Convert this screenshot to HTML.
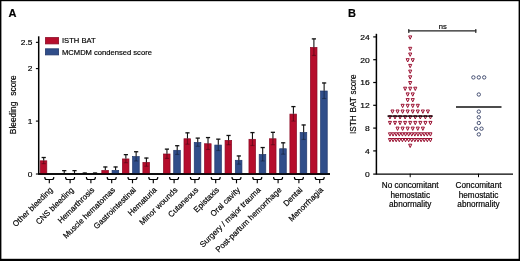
<!DOCTYPE html>
<html><head><meta charset="utf-8"><title>Figure</title>
<style>html,body{margin:0;padding:0;background:#fff;}svg{display:block;will-change:transform;}svg text{filter:grayscale(1);stroke:#000;stroke-width:0.18px;}</style></head>
<body>
<svg width="520" height="261" viewBox="0 0 520 261">
<rect x="0" y="0" width="520" height="261" fill="#fff"/>
<g>
<rect x="0" y="0" width="520" height="1.2" fill="#000"/>
<rect x="0" y="0" width="1.4" height="261" fill="#000"/>
<rect x="518.6" y="0" width="1.4" height="261" fill="#000"/>
<rect x="0" y="258.8" width="520" height="2.2" fill="#000"/>
<text x="8.5" y="16.8" font-family="Liberation Sans, sans-serif" font-size="11" font-weight="bold" fill="#000">A</text>
<text x="348" y="16.7" font-family="Liberation Sans, sans-serif" font-size="11" font-weight="bold" fill="#000">B</text>
<line x1="38.7" y1="36.3" x2="38.7" y2="174.2" stroke="#000" stroke-width="1.5"/>
<line x1="38.2" y1="174.0" x2="330" y2="173.95" stroke="#000" stroke-width="1.35"/>
<line x1="35.900000000000006" y1="174.0" x2="38.7" y2="174.0" stroke="#000" stroke-width="1.1"/>
<text transform="translate(32.400000000000006,176.80) scale(1.05,1)" font-family="Liberation Sans, sans-serif" font-size="8.0" text-anchor="end" fill="#000">0</text>
<line x1="35.900000000000006" y1="121.1" x2="38.7" y2="121.1" stroke="#000" stroke-width="1.1"/>
<text transform="translate(32.400000000000006,123.90) scale(1.05,1)" font-family="Liberation Sans, sans-serif" font-size="8.0" text-anchor="end" fill="#000">1</text>
<line x1="35.900000000000006" y1="68.6" x2="38.7" y2="68.6" stroke="#000" stroke-width="1.1"/>
<text transform="translate(32.400000000000006,71.40) scale(1.05,1)" font-family="Liberation Sans, sans-serif" font-size="8.0" text-anchor="end" fill="#000">2</text>
<line x1="35.900000000000006" y1="42.349999999999994" x2="38.7" y2="42.349999999999994" stroke="#000" stroke-width="1.1"/>
<text transform="translate(32.400000000000006,45.15) scale(1.05,1)" font-family="Liberation Sans, sans-serif" font-size="8.0" text-anchor="end" fill="#000">2.5</text>
<text transform="translate(16.1,104.7) rotate(-90) scale(0.9,1)" font-family="Liberation Sans, sans-serif" font-size="9.3" word-spacing="4" text-anchor="middle" fill="#000">Bleeding score</text>
<rect x="45.5" y="37.6" width="13.1" height="6.3" fill="#B60D2C" stroke="#8B0A25" stroke-width="0.8"/>
<rect x="45.5" y="48.8" width="13.1" height="6.1" fill="#304E8A" stroke="#22386B" stroke-width="0.8"/>
<text x="62" y="43.3" font-family="Liberation Sans, sans-serif" font-size="7.6" fill="#000">ISTH BAT</text>
<text x="62" y="54.5" font-family="Liberation Sans, sans-serif" font-size="7.6" fill="#000">MCMDM condensed score</text>
<rect x="40.20" y="160.82" width="6.6" height="13.12" fill="#B60D2C" stroke="#8B0A25" stroke-width="0.7"/>
<line x1="43.70" y1="157.32" x2="43.70" y2="160.47" stroke="#111" stroke-width="1.1"/>
<line x1="41.60" y1="157.52" x2="45.80" y2="157.52" stroke="#111" stroke-width="1.3"/>
<line x1="43.70" y1="160.47" x2="43.70" y2="163.62" stroke="#000" stroke-width="1.2" opacity="0.35"/>
<line x1="41.60" y1="163.62" x2="45.80" y2="163.62" stroke="#000" stroke-width="1.2" opacity="0.3"/>
<line x1="64.24" y1="170.45" x2="64.24" y2="173.60" stroke="#111" stroke-width="1.1"/>
<line x1="62.14" y1="170.65" x2="66.34" y2="170.65" stroke="#111" stroke-width="1.3"/>
<line x1="74.51" y1="170.45" x2="74.51" y2="173.60" stroke="#111" stroke-width="1.1"/>
<line x1="72.41" y1="170.65" x2="76.61" y2="170.65" stroke="#111" stroke-width="1.3"/>
<line x1="84.78" y1="172.81" x2="84.78" y2="173.60" stroke="#111" stroke-width="1.1"/>
<line x1="82.68" y1="173.01" x2="86.88" y2="173.01" stroke="#111" stroke-width="1.3"/>
<line x1="95.05" y1="172.81" x2="95.05" y2="173.60" stroke="#111" stroke-width="1.1"/>
<line x1="92.95" y1="173.01" x2="97.15" y2="173.01" stroke="#111" stroke-width="1.3"/>
<rect x="101.82" y="170.43" width="6.6" height="3.52" fill="#B60D2C" stroke="#8B0A25" stroke-width="0.7"/>
<line x1="105.32" y1="166.78" x2="105.32" y2="170.08" stroke="#111" stroke-width="1.1"/>
<line x1="103.22" y1="166.97" x2="107.42" y2="166.97" stroke="#111" stroke-width="1.3"/>
<rect x="112.09" y="170.43" width="6.6" height="3.52" fill="#304E8A" stroke="#22386B" stroke-width="0.7"/>
<line x1="115.59" y1="166.78" x2="115.59" y2="170.08" stroke="#111" stroke-width="1.1"/>
<line x1="113.49" y1="166.97" x2="117.69" y2="166.97" stroke="#111" stroke-width="1.3"/>
<rect x="122.36" y="158.94" width="6.6" height="15.01" fill="#B60D2C" stroke="#8B0A25" stroke-width="0.7"/>
<line x1="125.86" y1="154.44" x2="125.86" y2="158.59" stroke="#111" stroke-width="1.1"/>
<line x1="123.76" y1="154.64" x2="127.96" y2="154.64" stroke="#111" stroke-width="1.3"/>
<line x1="125.86" y1="158.59" x2="125.86" y2="162.73" stroke="#000" stroke-width="1.2" opacity="0.35"/>
<line x1="123.76" y1="162.73" x2="127.96" y2="162.73" stroke="#000" stroke-width="1.2" opacity="0.3"/>
<rect x="132.63" y="156.62" width="6.6" height="17.32" fill="#304E8A" stroke="#22386B" stroke-width="0.7"/>
<line x1="136.13" y1="151.55" x2="136.13" y2="156.28" stroke="#111" stroke-width="1.1"/>
<line x1="134.03" y1="151.75" x2="138.23" y2="151.75" stroke="#111" stroke-width="1.3"/>
<line x1="136.13" y1="156.28" x2="136.13" y2="161.00" stroke="#000" stroke-width="1.2" opacity="0.35"/>
<line x1="134.03" y1="161.00" x2="138.23" y2="161.00" stroke="#000" stroke-width="1.2" opacity="0.3"/>
<rect x="142.90" y="162.40" width="6.6" height="11.55" fill="#B60D2C" stroke="#8B0A25" stroke-width="0.7"/>
<line x1="146.40" y1="157.85" x2="146.40" y2="162.05" stroke="#111" stroke-width="1.1"/>
<line x1="144.30" y1="158.05" x2="148.50" y2="158.05" stroke="#111" stroke-width="1.3"/>
<line x1="146.40" y1="162.05" x2="146.40" y2="166.25" stroke="#000" stroke-width="1.2" opacity="0.35"/>
<line x1="144.30" y1="166.25" x2="148.50" y2="166.25" stroke="#000" stroke-width="1.2" opacity="0.3"/>
<rect x="163.44" y="154.00" width="6.6" height="19.95" fill="#B60D2C" stroke="#8B0A25" stroke-width="0.7"/>
<line x1="166.94" y1="148.93" x2="166.94" y2="153.65" stroke="#111" stroke-width="1.1"/>
<line x1="164.84" y1="149.12" x2="169.04" y2="149.12" stroke="#111" stroke-width="1.3"/>
<line x1="166.94" y1="153.65" x2="166.94" y2="158.38" stroke="#000" stroke-width="1.2" opacity="0.35"/>
<line x1="164.84" y1="158.38" x2="169.04" y2="158.38" stroke="#000" stroke-width="1.2" opacity="0.3"/>
<rect x="173.71" y="150.32" width="6.6" height="23.62" fill="#304E8A" stroke="#22386B" stroke-width="0.7"/>
<line x1="177.21" y1="145.51" x2="177.21" y2="149.97" stroke="#111" stroke-width="1.1"/>
<line x1="175.11" y1="145.71" x2="179.31" y2="145.71" stroke="#111" stroke-width="1.3"/>
<line x1="177.21" y1="149.97" x2="177.21" y2="154.44" stroke="#000" stroke-width="1.2" opacity="0.35"/>
<line x1="175.11" y1="154.44" x2="179.31" y2="154.44" stroke="#000" stroke-width="1.2" opacity="0.3"/>
<rect x="183.98" y="138.77" width="6.6" height="35.18" fill="#B60D2C" stroke="#8B0A25" stroke-width="0.7"/>
<line x1="187.48" y1="132.65" x2="187.48" y2="138.42" stroke="#111" stroke-width="1.1"/>
<line x1="185.38" y1="132.85" x2="189.58" y2="132.85" stroke="#111" stroke-width="1.3"/>
<line x1="187.48" y1="138.42" x2="187.48" y2="144.20" stroke="#000" stroke-width="1.2" opacity="0.35"/>
<line x1="185.38" y1="144.20" x2="189.58" y2="144.20" stroke="#000" stroke-width="1.2" opacity="0.3"/>
<rect x="194.25" y="142.45" width="6.6" height="31.50" fill="#304E8A" stroke="#22386B" stroke-width="0.7"/>
<line x1="197.75" y1="137.90" x2="197.75" y2="142.10" stroke="#111" stroke-width="1.1"/>
<line x1="195.65" y1="138.10" x2="199.85" y2="138.10" stroke="#111" stroke-width="1.3"/>
<line x1="197.75" y1="142.10" x2="197.75" y2="146.30" stroke="#000" stroke-width="1.2" opacity="0.35"/>
<line x1="195.65" y1="146.30" x2="199.85" y2="146.30" stroke="#000" stroke-width="1.2" opacity="0.3"/>
<rect x="204.52" y="143.76" width="6.6" height="30.19" fill="#B60D2C" stroke="#8B0A25" stroke-width="0.7"/>
<line x1="208.02" y1="137.38" x2="208.02" y2="143.41" stroke="#111" stroke-width="1.1"/>
<line x1="205.92" y1="137.57" x2="210.12" y2="137.57" stroke="#111" stroke-width="1.3"/>
<line x1="208.02" y1="143.41" x2="208.02" y2="149.45" stroke="#000" stroke-width="1.2" opacity="0.35"/>
<line x1="205.92" y1="149.45" x2="210.12" y2="149.45" stroke="#000" stroke-width="1.2" opacity="0.3"/>
<rect x="214.79" y="145.07" width="6.6" height="28.88" fill="#304E8A" stroke="#22386B" stroke-width="0.7"/>
<line x1="218.29" y1="138.95" x2="218.29" y2="144.72" stroke="#111" stroke-width="1.1"/>
<line x1="216.19" y1="139.15" x2="220.39" y2="139.15" stroke="#111" stroke-width="1.3"/>
<line x1="218.29" y1="144.72" x2="218.29" y2="150.50" stroke="#000" stroke-width="1.2" opacity="0.35"/>
<line x1="216.19" y1="150.50" x2="220.39" y2="150.50" stroke="#000" stroke-width="1.2" opacity="0.3"/>
<rect x="225.06" y="140.35" width="6.6" height="33.60" fill="#B60D2C" stroke="#8B0A25" stroke-width="0.7"/>
<line x1="228.56" y1="135.28" x2="228.56" y2="140.00" stroke="#111" stroke-width="1.1"/>
<line x1="226.46" y1="135.47" x2="230.66" y2="135.47" stroke="#111" stroke-width="1.3"/>
<line x1="228.56" y1="140.00" x2="228.56" y2="144.72" stroke="#000" stroke-width="1.2" opacity="0.35"/>
<line x1="226.46" y1="144.72" x2="230.66" y2="144.72" stroke="#000" stroke-width="1.2" opacity="0.3"/>
<rect x="235.33" y="160.30" width="6.6" height="13.65" fill="#304E8A" stroke="#22386B" stroke-width="0.7"/>
<line x1="238.83" y1="155.75" x2="238.83" y2="159.95" stroke="#111" stroke-width="1.1"/>
<line x1="236.73" y1="155.95" x2="240.93" y2="155.95" stroke="#111" stroke-width="1.3"/>
<line x1="238.83" y1="159.95" x2="238.83" y2="164.15" stroke="#000" stroke-width="1.2" opacity="0.35"/>
<line x1="236.73" y1="164.15" x2="240.93" y2="164.15" stroke="#000" stroke-width="1.2" opacity="0.3"/>
<rect x="248.95" y="139.30" width="6.6" height="34.65" fill="#B60D2C" stroke="#8B0A25" stroke-width="0.7"/>
<line x1="252.45" y1="132.39" x2="252.45" y2="138.95" stroke="#111" stroke-width="1.1"/>
<line x1="250.35" y1="132.59" x2="254.55" y2="132.59" stroke="#111" stroke-width="1.3"/>
<line x1="252.45" y1="138.95" x2="252.45" y2="145.51" stroke="#000" stroke-width="1.2" opacity="0.35"/>
<line x1="250.35" y1="145.51" x2="254.55" y2="145.51" stroke="#000" stroke-width="1.2" opacity="0.3"/>
<rect x="259.19" y="154.52" width="6.6" height="19.43" fill="#304E8A" stroke="#22386B" stroke-width="0.7"/>
<line x1="262.69" y1="147.35" x2="262.69" y2="154.17" stroke="#111" stroke-width="1.1"/>
<line x1="260.59" y1="147.55" x2="264.79" y2="147.55" stroke="#111" stroke-width="1.3"/>
<line x1="262.69" y1="154.17" x2="262.69" y2="161.00" stroke="#000" stroke-width="1.2" opacity="0.35"/>
<line x1="260.59" y1="161.00" x2="264.79" y2="161.00" stroke="#000" stroke-width="1.2" opacity="0.3"/>
<rect x="269.43" y="138.77" width="6.6" height="35.18" fill="#B60D2C" stroke="#8B0A25" stroke-width="0.7"/>
<line x1="272.93" y1="132.12" x2="272.93" y2="138.42" stroke="#111" stroke-width="1.1"/>
<line x1="270.83" y1="132.32" x2="275.03" y2="132.32" stroke="#111" stroke-width="1.3"/>
<line x1="272.93" y1="138.42" x2="272.93" y2="144.72" stroke="#000" stroke-width="1.2" opacity="0.35"/>
<line x1="270.83" y1="144.72" x2="275.03" y2="144.72" stroke="#000" stroke-width="1.2" opacity="0.3"/>
<rect x="279.67" y="148.75" width="6.6" height="25.20" fill="#304E8A" stroke="#22386B" stroke-width="0.7"/>
<line x1="283.17" y1="142.62" x2="283.17" y2="148.40" stroke="#111" stroke-width="1.1"/>
<line x1="281.07" y1="142.82" x2="285.27" y2="142.82" stroke="#111" stroke-width="1.3"/>
<line x1="283.17" y1="148.40" x2="283.17" y2="154.17" stroke="#000" stroke-width="1.2" opacity="0.35"/>
<line x1="281.07" y1="154.17" x2="285.27" y2="154.17" stroke="#000" stroke-width="1.2" opacity="0.3"/>
<rect x="289.91" y="114.10" width="6.6" height="59.85" fill="#B60D2C" stroke="#8B0A25" stroke-width="0.7"/>
<line x1="293.41" y1="106.40" x2="293.41" y2="113.75" stroke="#111" stroke-width="1.1"/>
<line x1="291.31" y1="106.60" x2="295.51" y2="106.60" stroke="#111" stroke-width="1.3"/>
<line x1="293.41" y1="113.75" x2="293.41" y2="121.10" stroke="#000" stroke-width="1.2" opacity="0.35"/>
<line x1="291.31" y1="121.10" x2="295.51" y2="121.10" stroke="#000" stroke-width="1.2" opacity="0.3"/>
<rect x="300.15" y="132.47" width="6.6" height="41.47" fill="#304E8A" stroke="#22386B" stroke-width="0.7"/>
<line x1="303.65" y1="124.77" x2="303.65" y2="132.12" stroke="#111" stroke-width="1.1"/>
<line x1="301.55" y1="124.97" x2="305.75" y2="124.97" stroke="#111" stroke-width="1.3"/>
<line x1="303.65" y1="132.12" x2="303.65" y2="139.47" stroke="#000" stroke-width="1.2" opacity="0.35"/>
<line x1="301.55" y1="139.47" x2="305.75" y2="139.47" stroke="#000" stroke-width="1.2" opacity="0.3"/>
<rect x="310.39" y="47.42" width="6.6" height="126.53" fill="#B60D2C" stroke="#8B0A25" stroke-width="0.7"/>
<line x1="313.89" y1="38.68" x2="313.89" y2="47.07" stroke="#111" stroke-width="1.1"/>
<line x1="311.79" y1="38.88" x2="315.99" y2="38.88" stroke="#111" stroke-width="1.3"/>
<line x1="313.89" y1="47.07" x2="313.89" y2="55.47" stroke="#000" stroke-width="1.2" opacity="0.35"/>
<line x1="311.79" y1="55.47" x2="315.99" y2="55.47" stroke="#000" stroke-width="1.2" opacity="0.3"/>
<rect x="320.63" y="91.00" width="6.6" height="82.95" fill="#304E8A" stroke="#22386B" stroke-width="0.7"/>
<line x1="324.13" y1="82.77" x2="324.13" y2="90.65" stroke="#111" stroke-width="1.1"/>
<line x1="322.03" y1="82.97" x2="326.23" y2="82.97" stroke="#111" stroke-width="1.3"/>
<line x1="324.13" y1="90.65" x2="324.13" y2="98.52" stroke="#000" stroke-width="1.2" opacity="0.35"/>
<line x1="322.03" y1="98.52" x2="326.23" y2="98.52" stroke="#000" stroke-width="1.2" opacity="0.3"/>
<line x1="38.2" y1="174.0" x2="330" y2="173.95" stroke="#000" stroke-width="1.35"/>
<path d="M44.80 176.9 Q44.80 179.5 46.60 179.5 L52.00 179.5 Q53.80 179.5 53.80 176.9 M49.30 179.5 L49.30 183.3" fill="none" stroke="#000" stroke-width="1.15"/>
<text transform="translate(53.30,190.5) rotate(-44.5)" font-family="Liberation Sans, sans-serif" font-size="8.0" text-anchor="end" fill="#000">Other bleeding</text>
<path d="M65.60 176.9 Q65.60 179.5 67.40 179.5 L72.80 179.5 Q74.60 179.5 74.60 176.9 M70.10 179.5 L70.10 183.3" fill="none" stroke="#000" stroke-width="1.15"/>
<text transform="translate(74.10,190.5) rotate(-44.5)" font-family="Liberation Sans, sans-serif" font-size="8.0" text-anchor="end" fill="#000">CNS bleeding</text>
<path d="M86.40 176.9 Q86.40 179.5 88.20 179.5 L93.60 179.5 Q95.40 179.5 95.40 176.9 M90.90 179.5 L90.90 183.3" fill="none" stroke="#000" stroke-width="1.15"/>
<text transform="translate(94.90,190.5) rotate(-44.5)" font-family="Liberation Sans, sans-serif" font-size="8.0" text-anchor="end" fill="#000">Hemarthrosis</text>
<path d="M107.20 176.9 Q107.20 179.5 109.00 179.5 L114.40 179.5 Q116.20 179.5 116.20 176.9 M111.70 179.5 L111.70 183.3" fill="none" stroke="#000" stroke-width="1.15"/>
<text transform="translate(115.70,190.5) rotate(-44.5)" font-family="Liberation Sans, sans-serif" font-size="8.0" text-anchor="end" fill="#000">Muscle hematomas</text>
<path d="M128.00 176.9 Q128.00 179.5 129.80 179.5 L135.20 179.5 Q137.00 179.5 137.00 176.9 M132.50 179.5 L132.50 183.3" fill="none" stroke="#000" stroke-width="1.15"/>
<text transform="translate(136.50,190.5) rotate(-44.5)" font-family="Liberation Sans, sans-serif" font-size="8.0" text-anchor="end" fill="#000">Gastrointestinal</text>
<path d="M148.80 176.9 Q148.80 179.5 150.60 179.5 L156.00 179.5 Q157.80 179.5 157.80 176.9 M153.30 179.5 L153.30 183.3" fill="none" stroke="#000" stroke-width="1.15"/>
<text transform="translate(157.30,190.5) rotate(-44.5)" font-family="Liberation Sans, sans-serif" font-size="8.0" text-anchor="end" fill="#000">Hematuria</text>
<path d="M169.60 176.9 Q169.60 179.5 171.40 179.5 L176.80 179.5 Q178.60 179.5 178.60 176.9 M174.10 179.5 L174.10 183.3" fill="none" stroke="#000" stroke-width="1.15"/>
<text transform="translate(178.10,190.5) rotate(-44.5)" font-family="Liberation Sans, sans-serif" font-size="8.0" text-anchor="end" fill="#000">Minor wounds</text>
<path d="M190.40 176.9 Q190.40 179.5 192.20 179.5 L197.60 179.5 Q199.40 179.5 199.40 176.9 M194.90 179.5 L194.90 183.3" fill="none" stroke="#000" stroke-width="1.15"/>
<text transform="translate(198.90,190.5) rotate(-44.5)" font-family="Liberation Sans, sans-serif" font-size="8.0" text-anchor="end" fill="#000">Cutaneous</text>
<path d="M211.20 176.9 Q211.20 179.5 213.00 179.5 L218.40 179.5 Q220.20 179.5 220.20 176.9 M215.70 179.5 L215.70 183.3" fill="none" stroke="#000" stroke-width="1.15"/>
<text transform="translate(219.70,190.5) rotate(-44.5)" font-family="Liberation Sans, sans-serif" font-size="8.0" text-anchor="end" fill="#000">Epistaxis</text>
<path d="M232.00 176.9 Q232.00 179.5 233.80 179.5 L239.20 179.5 Q241.00 179.5 241.00 176.9 M236.50 179.5 L236.50 183.3" fill="none" stroke="#000" stroke-width="1.15"/>
<text transform="translate(240.50,190.5) rotate(-44.5)" font-family="Liberation Sans, sans-serif" font-size="8.0" text-anchor="end" fill="#000">Oral cavity</text>
<path d="M252.80 176.9 Q252.80 179.5 254.60 179.5 L260.00 179.5 Q261.80 179.5 261.80 176.9 M257.30 179.5 L257.30 183.3" fill="none" stroke="#000" stroke-width="1.15"/>
<text transform="translate(261.30,190.5) rotate(-44.5)" font-family="Liberation Sans, sans-serif" font-size="8.0" text-anchor="end" fill="#000">Surgery / major trauma</text>
<path d="M273.60 176.9 Q273.60 179.5 275.40 179.5 L280.80 179.5 Q282.60 179.5 282.60 176.9 M278.10 179.5 L278.10 183.3" fill="none" stroke="#000" stroke-width="1.15"/>
<text transform="translate(282.10,190.5) rotate(-44.5)" font-family="Liberation Sans, sans-serif" font-size="8.0" text-anchor="end" fill="#000">Post-partum hemorrhage</text>
<path d="M294.40 176.9 Q294.40 179.5 296.20 179.5 L301.60 179.5 Q303.40 179.5 303.40 176.9 M298.90 179.5 L298.90 183.3" fill="none" stroke="#000" stroke-width="1.15"/>
<text transform="translate(302.90,190.5) rotate(-44.5)" font-family="Liberation Sans, sans-serif" font-size="8.0" text-anchor="end" fill="#000">Dental</text>
<path d="M315.20 176.9 Q315.20 179.5 317.00 179.5 L322.40 179.5 Q324.20 179.5 324.20 176.9 M319.70 179.5 L319.70 183.3" fill="none" stroke="#000" stroke-width="1.15"/>
<text transform="translate(323.70,190.5) rotate(-44.5)" font-family="Liberation Sans, sans-serif" font-size="8.0" text-anchor="end" fill="#000">Menorrhagia</text>
<line x1="376.4" y1="33.8" x2="376.4" y2="174.29999999999998" stroke="#000" stroke-width="1.5"/>
<line x1="375.9" y1="174.1" x2="513" y2="174.04999999999998" stroke="#000" stroke-width="1.35"/>
<line x1="373.2" y1="174.10" x2="376.4" y2="174.10" stroke="#000" stroke-width="1.2"/>
<text transform="translate(369.79999999999995,177.00) scale(1.05,1)" font-family="Liberation Sans, sans-serif" font-size="8.1" text-anchor="end" fill="#000">0</text>
<line x1="373.2" y1="150.90" x2="376.4" y2="150.90" stroke="#000" stroke-width="1.2"/>
<text transform="translate(369.79999999999995,153.80) scale(1.05,1)" font-family="Liberation Sans, sans-serif" font-size="8.1" text-anchor="end" fill="#000">4</text>
<line x1="373.2" y1="128.10" x2="376.4" y2="128.10" stroke="#000" stroke-width="1.2"/>
<text transform="translate(369.79999999999995,131.00) scale(1.05,1)" font-family="Liberation Sans, sans-serif" font-size="8.1" text-anchor="end" fill="#000">8</text>
<line x1="373.2" y1="105.30" x2="376.4" y2="105.30" stroke="#000" stroke-width="1.2"/>
<text transform="translate(369.79999999999995,108.20) scale(1.05,1)" font-family="Liberation Sans, sans-serif" font-size="8.1" text-anchor="end" fill="#000">12</text>
<line x1="373.2" y1="82.50" x2="376.4" y2="82.50" stroke="#000" stroke-width="1.2"/>
<text transform="translate(369.79999999999995,85.40) scale(1.05,1)" font-family="Liberation Sans, sans-serif" font-size="8.1" text-anchor="end" fill="#000">16</text>
<line x1="373.2" y1="59.70" x2="376.4" y2="59.70" stroke="#000" stroke-width="1.2"/>
<text transform="translate(369.79999999999995,62.60) scale(1.05,1)" font-family="Liberation Sans, sans-serif" font-size="8.1" text-anchor="end" fill="#000">20</text>
<line x1="373.2" y1="36.90" x2="376.4" y2="36.90" stroke="#000" stroke-width="1.2"/>
<text transform="translate(369.79999999999995,39.80) scale(1.05,1)" font-family="Liberation Sans, sans-serif" font-size="8.1" text-anchor="end" fill="#000">24</text>
<text transform="translate(355.7,104.2) rotate(-90) scale(0.885,1)" font-family="Liberation Sans, sans-serif" font-size="9.3" word-spacing="0.6" text-anchor="middle" fill="#000">ISTH BAT score</text>
<line x1="410.2" y1="173.7" x2="410.2" y2="177.2" stroke="#000" stroke-width="1"/>
<line x1="478.5" y1="173.7" x2="478.5" y2="177.2" stroke="#000" stroke-width="1"/>
<text x="410.2" y="188.0" font-family="Liberation Sans, sans-serif" font-size="8.2" text-anchor="middle" fill="#000">No concomitant</text>
<text x="410.2" y="197.7" font-family="Liberation Sans, sans-serif" font-size="8.2" text-anchor="middle" fill="#000">hemostatic</text>
<text x="410.2" y="207.4" font-family="Liberation Sans, sans-serif" font-size="8.2" text-anchor="middle" fill="#000">abnormality</text>
<text x="478.5" y="188.0" font-family="Liberation Sans, sans-serif" font-size="8.2" text-anchor="middle" fill="#000">Concomitant</text>
<text x="478.5" y="197.7" font-family="Liberation Sans, sans-serif" font-size="8.2" text-anchor="middle" fill="#000">hemostatic</text>
<text x="478.5" y="207.4" font-family="Liberation Sans, sans-serif" font-size="8.2" text-anchor="middle" fill="#000">abnormality</text>
<line x1="408.3" y1="30.9" x2="476.3" y2="30.9" stroke="#222" stroke-width="1.3"/>
<line x1="408.8" y1="28.9" x2="408.8" y2="32.9" stroke="#222" stroke-width="1.1"/>
<line x1="475.8" y1="28.9" x2="475.8" y2="32.9" stroke="#222" stroke-width="1.1"/>
<text x="442.7" y="29.2" font-family="Liberation Sans, sans-serif" font-size="7.6" text-anchor="middle" fill="#000">ns</text>
<path d="M408.65 35.90 L411.75 35.90 L410.20 39.20 Z" fill="#fff" stroke="#9A0F30" stroke-width="1.0" stroke-linejoin="miter"/>
<path d="M408.65 47.30 L411.75 47.30 L410.20 50.60 Z" fill="#fff" stroke="#9A0F30" stroke-width="1.0" stroke-linejoin="miter"/>
<path d="M408.65 53.00 L411.75 53.00 L410.20 56.30 Z" fill="#fff" stroke="#9A0F30" stroke-width="1.0" stroke-linejoin="miter"/>
<path d="M406.12 58.70 L409.22 58.70 L407.67 62.00 Z" fill="#fff" stroke="#9A0F30" stroke-width="1.0" stroke-linejoin="miter"/>
<path d="M411.18 58.70 L414.28 58.70 L412.73 62.00 Z" fill="#fff" stroke="#9A0F30" stroke-width="1.0" stroke-linejoin="miter"/>
<path d="M408.65 64.40 L411.75 64.40 L410.20 67.70 Z" fill="#fff" stroke="#9A0F30" stroke-width="1.0" stroke-linejoin="miter"/>
<path d="M408.65 70.10 L411.75 70.10 L410.20 73.40 Z" fill="#fff" stroke="#9A0F30" stroke-width="1.0" stroke-linejoin="miter"/>
<path d="M408.65 75.80 L411.75 75.80 L410.20 79.10 Z" fill="#fff" stroke="#9A0F30" stroke-width="1.0" stroke-linejoin="miter"/>
<path d="M408.65 81.50 L411.75 81.50 L410.20 84.80 Z" fill="#fff" stroke="#9A0F30" stroke-width="1.0" stroke-linejoin="miter"/>
<path d="M403.59 87.20 L406.69 87.20 L405.14 90.50 Z" fill="#fff" stroke="#9A0F30" stroke-width="1.0" stroke-linejoin="miter"/>
<path d="M408.65 87.20 L411.75 87.20 L410.20 90.50 Z" fill="#fff" stroke="#9A0F30" stroke-width="1.0" stroke-linejoin="miter"/>
<path d="M413.71 87.20 L416.81 87.20 L415.26 90.50 Z" fill="#fff" stroke="#9A0F30" stroke-width="1.0" stroke-linejoin="miter"/>
<path d="M406.12 92.90 L409.22 92.90 L407.67 96.20 Z" fill="#fff" stroke="#9A0F30" stroke-width="1.0" stroke-linejoin="miter"/>
<path d="M411.18 92.90 L414.28 92.90 L412.73 96.20 Z" fill="#fff" stroke="#9A0F30" stroke-width="1.0" stroke-linejoin="miter"/>
<path d="M406.12 98.60 L409.22 98.60 L407.67 101.90 Z" fill="#fff" stroke="#9A0F30" stroke-width="1.0" stroke-linejoin="miter"/>
<path d="M411.18 98.60 L414.28 98.60 L412.73 101.90 Z" fill="#fff" stroke="#9A0F30" stroke-width="1.0" stroke-linejoin="miter"/>
<path d="M401.06 104.30 L404.16 104.30 L402.61 107.60 Z" fill="#fff" stroke="#9A0F30" stroke-width="1.0" stroke-linejoin="miter"/>
<path d="M406.12 104.30 L409.22 104.30 L407.67 107.60 Z" fill="#fff" stroke="#9A0F30" stroke-width="1.0" stroke-linejoin="miter"/>
<path d="M411.18 104.30 L414.28 104.30 L412.73 107.60 Z" fill="#fff" stroke="#9A0F30" stroke-width="1.0" stroke-linejoin="miter"/>
<path d="M416.24 104.30 L419.34 104.30 L417.79 107.60 Z" fill="#fff" stroke="#9A0F30" stroke-width="1.0" stroke-linejoin="miter"/>
<path d="M390.94 110.00 L394.04 110.00 L392.49 113.30 Z" fill="#fff" stroke="#9A0F30" stroke-width="1.0" stroke-linejoin="miter"/>
<path d="M396.00 110.00 L399.10 110.00 L397.55 113.30 Z" fill="#fff" stroke="#9A0F30" stroke-width="1.0" stroke-linejoin="miter"/>
<path d="M401.06 110.00 L404.16 110.00 L402.61 113.30 Z" fill="#fff" stroke="#9A0F30" stroke-width="1.0" stroke-linejoin="miter"/>
<path d="M406.12 110.00 L409.22 110.00 L407.67 113.30 Z" fill="#fff" stroke="#9A0F30" stroke-width="1.0" stroke-linejoin="miter"/>
<path d="M411.18 110.00 L414.28 110.00 L412.73 113.30 Z" fill="#fff" stroke="#9A0F30" stroke-width="1.0" stroke-linejoin="miter"/>
<path d="M416.24 110.00 L419.34 110.00 L417.79 113.30 Z" fill="#fff" stroke="#9A0F30" stroke-width="1.0" stroke-linejoin="miter"/>
<path d="M421.30 110.00 L424.40 110.00 L422.85 113.30 Z" fill="#fff" stroke="#9A0F30" stroke-width="1.0" stroke-linejoin="miter"/>
<path d="M426.36 110.00 L429.46 110.00 L427.91 113.30 Z" fill="#fff" stroke="#9A0F30" stroke-width="1.0" stroke-linejoin="miter"/>
<path d="M388.41 115.70 L391.51 115.70 L389.96 119.00 Z" fill="#fff" stroke="#9A0F30" stroke-width="1.0" stroke-linejoin="miter"/>
<path d="M393.47 115.70 L396.57 115.70 L395.02 119.00 Z" fill="#fff" stroke="#9A0F30" stroke-width="1.0" stroke-linejoin="miter"/>
<path d="M398.53 115.70 L401.63 115.70 L400.08 119.00 Z" fill="#fff" stroke="#9A0F30" stroke-width="1.0" stroke-linejoin="miter"/>
<path d="M403.59 115.70 L406.69 115.70 L405.14 119.00 Z" fill="#fff" stroke="#9A0F30" stroke-width="1.0" stroke-linejoin="miter"/>
<path d="M408.65 115.70 L411.75 115.70 L410.20 119.00 Z" fill="#fff" stroke="#9A0F30" stroke-width="1.0" stroke-linejoin="miter"/>
<path d="M413.71 115.70 L416.81 115.70 L415.26 119.00 Z" fill="#fff" stroke="#9A0F30" stroke-width="1.0" stroke-linejoin="miter"/>
<path d="M418.77 115.70 L421.87 115.70 L420.32 119.00 Z" fill="#fff" stroke="#9A0F30" stroke-width="1.0" stroke-linejoin="miter"/>
<path d="M423.83 115.70 L426.93 115.70 L425.38 119.00 Z" fill="#fff" stroke="#9A0F30" stroke-width="1.0" stroke-linejoin="miter"/>
<path d="M428.89 115.70 L431.99 115.70 L430.44 119.00 Z" fill="#fff" stroke="#9A0F30" stroke-width="1.0" stroke-linejoin="miter"/>
<path d="M388.41 121.40 L391.51 121.40 L389.96 124.70 Z" fill="#fff" stroke="#9A0F30" stroke-width="1.0" stroke-linejoin="miter"/>
<path d="M393.47 121.40 L396.57 121.40 L395.02 124.70 Z" fill="#fff" stroke="#9A0F30" stroke-width="1.0" stroke-linejoin="miter"/>
<path d="M398.53 121.40 L401.63 121.40 L400.08 124.70 Z" fill="#fff" stroke="#9A0F30" stroke-width="1.0" stroke-linejoin="miter"/>
<path d="M403.59 121.40 L406.69 121.40 L405.14 124.70 Z" fill="#fff" stroke="#9A0F30" stroke-width="1.0" stroke-linejoin="miter"/>
<path d="M408.65 121.40 L411.75 121.40 L410.20 124.70 Z" fill="#fff" stroke="#9A0F30" stroke-width="1.0" stroke-linejoin="miter"/>
<path d="M413.71 121.40 L416.81 121.40 L415.26 124.70 Z" fill="#fff" stroke="#9A0F30" stroke-width="1.0" stroke-linejoin="miter"/>
<path d="M418.77 121.40 L421.87 121.40 L420.32 124.70 Z" fill="#fff" stroke="#9A0F30" stroke-width="1.0" stroke-linejoin="miter"/>
<path d="M423.83 121.40 L426.93 121.40 L425.38 124.70 Z" fill="#fff" stroke="#9A0F30" stroke-width="1.0" stroke-linejoin="miter"/>
<path d="M428.89 121.40 L431.99 121.40 L430.44 124.70 Z" fill="#fff" stroke="#9A0F30" stroke-width="1.0" stroke-linejoin="miter"/>
<path d="M396.00 127.10 L399.10 127.10 L397.55 130.40 Z" fill="#fff" stroke="#9A0F30" stroke-width="1.0" stroke-linejoin="miter"/>
<path d="M401.06 127.10 L404.16 127.10 L402.61 130.40 Z" fill="#fff" stroke="#9A0F30" stroke-width="1.0" stroke-linejoin="miter"/>
<path d="M406.12 127.10 L409.22 127.10 L407.67 130.40 Z" fill="#fff" stroke="#9A0F30" stroke-width="1.0" stroke-linejoin="miter"/>
<path d="M411.18 127.10 L414.28 127.10 L412.73 130.40 Z" fill="#fff" stroke="#9A0F30" stroke-width="1.0" stroke-linejoin="miter"/>
<path d="M416.24 127.10 L419.34 127.10 L417.79 130.40 Z" fill="#fff" stroke="#9A0F30" stroke-width="1.0" stroke-linejoin="miter"/>
<path d="M421.30 127.10 L424.40 127.10 L422.85 130.40 Z" fill="#fff" stroke="#9A0F30" stroke-width="1.0" stroke-linejoin="miter"/>
<path d="M388.41 132.80 L391.51 132.80 L389.96 136.10 Z" fill="#fff" stroke="#9A0F30" stroke-width="1.0" stroke-linejoin="miter"/>
<path d="M391.52 132.80 L394.62 132.80 L393.07 136.10 Z" fill="#fff" stroke="#9A0F30" stroke-width="1.0" stroke-linejoin="miter"/>
<path d="M394.64 132.80 L397.74 132.80 L396.19 136.10 Z" fill="#fff" stroke="#9A0F30" stroke-width="1.0" stroke-linejoin="miter"/>
<path d="M397.75 132.80 L400.85 132.80 L399.30 136.10 Z" fill="#fff" stroke="#9A0F30" stroke-width="1.0" stroke-linejoin="miter"/>
<path d="M400.87 132.80 L403.97 132.80 L402.42 136.10 Z" fill="#fff" stroke="#9A0F30" stroke-width="1.0" stroke-linejoin="miter"/>
<path d="M403.98 132.80 L407.08 132.80 L405.53 136.10 Z" fill="#fff" stroke="#9A0F30" stroke-width="1.0" stroke-linejoin="miter"/>
<path d="M407.09 132.80 L410.19 132.80 L408.64 136.10 Z" fill="#fff" stroke="#9A0F30" stroke-width="1.0" stroke-linejoin="miter"/>
<path d="M410.21 132.80 L413.31 132.80 L411.76 136.10 Z" fill="#fff" stroke="#9A0F30" stroke-width="1.0" stroke-linejoin="miter"/>
<path d="M413.32 132.80 L416.42 132.80 L414.87 136.10 Z" fill="#fff" stroke="#9A0F30" stroke-width="1.0" stroke-linejoin="miter"/>
<path d="M416.43 132.80 L419.53 132.80 L417.98 136.10 Z" fill="#fff" stroke="#9A0F30" stroke-width="1.0" stroke-linejoin="miter"/>
<path d="M419.55 132.80 L422.65 132.80 L421.10 136.10 Z" fill="#fff" stroke="#9A0F30" stroke-width="1.0" stroke-linejoin="miter"/>
<path d="M422.66 132.80 L425.76 132.80 L424.21 136.10 Z" fill="#fff" stroke="#9A0F30" stroke-width="1.0" stroke-linejoin="miter"/>
<path d="M425.78 132.80 L428.88 132.80 L427.33 136.10 Z" fill="#fff" stroke="#9A0F30" stroke-width="1.0" stroke-linejoin="miter"/>
<path d="M428.89 132.80 L431.99 132.80 L430.44 136.10 Z" fill="#fff" stroke="#9A0F30" stroke-width="1.0" stroke-linejoin="miter"/>
<path d="M388.41 138.50 L391.51 138.50 L389.96 141.80 Z" fill="#fff" stroke="#9A0F30" stroke-width="1.0" stroke-linejoin="miter"/>
<path d="M391.52 138.50 L394.62 138.50 L393.07 141.80 Z" fill="#fff" stroke="#9A0F30" stroke-width="1.0" stroke-linejoin="miter"/>
<path d="M394.64 138.50 L397.74 138.50 L396.19 141.80 Z" fill="#fff" stroke="#9A0F30" stroke-width="1.0" stroke-linejoin="miter"/>
<path d="M397.75 138.50 L400.85 138.50 L399.30 141.80 Z" fill="#fff" stroke="#9A0F30" stroke-width="1.0" stroke-linejoin="miter"/>
<path d="M400.87 138.50 L403.97 138.50 L402.42 141.80 Z" fill="#fff" stroke="#9A0F30" stroke-width="1.0" stroke-linejoin="miter"/>
<path d="M403.98 138.50 L407.08 138.50 L405.53 141.80 Z" fill="#fff" stroke="#9A0F30" stroke-width="1.0" stroke-linejoin="miter"/>
<path d="M407.09 138.50 L410.19 138.50 L408.64 141.80 Z" fill="#fff" stroke="#9A0F30" stroke-width="1.0" stroke-linejoin="miter"/>
<path d="M410.21 138.50 L413.31 138.50 L411.76 141.80 Z" fill="#fff" stroke="#9A0F30" stroke-width="1.0" stroke-linejoin="miter"/>
<path d="M413.32 138.50 L416.42 138.50 L414.87 141.80 Z" fill="#fff" stroke="#9A0F30" stroke-width="1.0" stroke-linejoin="miter"/>
<path d="M416.43 138.50 L419.53 138.50 L417.98 141.80 Z" fill="#fff" stroke="#9A0F30" stroke-width="1.0" stroke-linejoin="miter"/>
<path d="M419.55 138.50 L422.65 138.50 L421.10 141.80 Z" fill="#fff" stroke="#9A0F30" stroke-width="1.0" stroke-linejoin="miter"/>
<path d="M422.66 138.50 L425.76 138.50 L424.21 141.80 Z" fill="#fff" stroke="#9A0F30" stroke-width="1.0" stroke-linejoin="miter"/>
<path d="M425.78 138.50 L428.88 138.50 L427.33 141.80 Z" fill="#fff" stroke="#9A0F30" stroke-width="1.0" stroke-linejoin="miter"/>
<path d="M428.89 138.50 L431.99 138.50 L430.44 141.80 Z" fill="#fff" stroke="#9A0F30" stroke-width="1.0" stroke-linejoin="miter"/>
<path d="M408.65 144.20 L411.75 144.20 L410.20 147.50 Z" fill="#fff" stroke="#9A0F30" stroke-width="1.0" stroke-linejoin="miter"/>
<line x1="387.5" y1="116.13" x2="432.8" y2="116.13" stroke="#000" stroke-width="1.4"/>
<circle cx="473.40" cy="77.40" r="1.7" fill="#fff" stroke="#364166" stroke-width="0.9"/>
<circle cx="478.80" cy="77.40" r="1.7" fill="#fff" stroke="#364166" stroke-width="0.9"/>
<circle cx="484.20" cy="77.40" r="1.7" fill="#fff" stroke="#364166" stroke-width="0.9"/>
<circle cx="478.80" cy="94.50" r="1.7" fill="#fff" stroke="#364166" stroke-width="0.9"/>
<circle cx="478.80" cy="111.60" r="1.7" fill="#fff" stroke="#364166" stroke-width="0.9"/>
<circle cx="478.80" cy="117.30" r="1.7" fill="#fff" stroke="#364166" stroke-width="0.9"/>
<circle cx="478.80" cy="123.00" r="1.7" fill="#fff" stroke="#364166" stroke-width="0.9"/>
<circle cx="476.10" cy="128.70" r="1.7" fill="#fff" stroke="#364166" stroke-width="0.9"/>
<circle cx="481.50" cy="128.70" r="1.7" fill="#fff" stroke="#364166" stroke-width="0.9"/>
<circle cx="478.80" cy="134.40" r="1.7" fill="#fff" stroke="#364166" stroke-width="0.9"/>
<line x1="456" y1="107.01" x2="501.5" y2="107.01" stroke="#111" stroke-width="1.35"/>
</g>
</svg>
</body></html>
